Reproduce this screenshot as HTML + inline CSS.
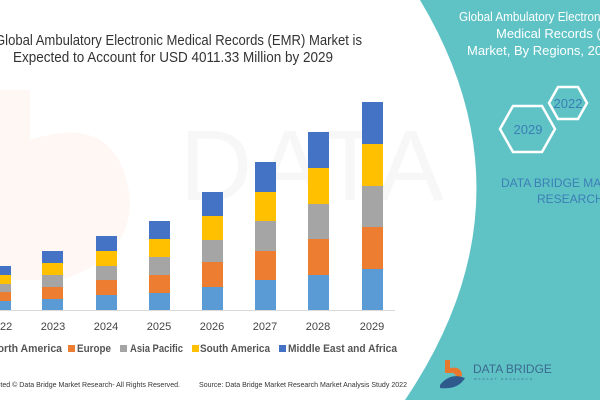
<!DOCTYPE html>
<html><head><meta charset="utf-8"><style>
html,body{margin:0;padding:0;background:#fff;}
svg{display:block;}
text{font-family:"Liberation Sans",sans-serif;}
</style></head><body>
<svg width="600" height="400" viewBox="0 0 600 400">
<rect width="600" height="400" fill="#fff"/>
<!-- faint watermark -->
<path d="M0,90 L30,90 L30,140 Q120,110 130,200 Q130,260 60,280 L0,280 Z" fill="#fdf3ef" opacity="0.7"/>
<text x="180" y="200" font-size="100" fill="#f7f7f7" letter-spacing="4">DATA BR</text>
<!-- teal panel -->
<path d="M420,0 Q540,200 405,400 L600,400 L600,0 Z" fill="#5fc3c6"/>
<text x="459" y="21" font-size="13" fill="#fff" textLength="150" lengthAdjust="spacingAndGlyphs">Global Ambulatory Electronic</text>
<text x="496" y="38" font-size="13" fill="#fff">Medical Records (EMR)</text>
<text x="467" y="55" font-size="13" fill="#fff">Market, By Regions, 2022</text>
<polygon points="549,103 558,87 578,87 587,103 578,119 558,119" fill="none" stroke="#fff" stroke-width="2.5"/>
<text x="568" y="108" font-size="13" fill="#3b7fb5" text-anchor="middle">2022</text>
<polygon points="500,129 513,106 542,106 555,129 542,152 513,152" fill="none" stroke="#fff" stroke-width="2.5"/>
<text x="528" y="134" font-size="13" fill="#3b7fb5" text-anchor="middle">2029</text>
<text x="501" y="187" font-size="12" fill="#3b7fb5">DATA BRIDGE MARKET</text>
<text x="537" y="203" font-size="12" fill="#3b7fb5">RESEARCH</text>
<!-- logo -->
<path d="M445,360 L450,360 L450,368 Q462,366 462,376 L456,378 Q456,372 450,373 L445,373 Z" fill="#e8782e"/>
<path d="M440,385 Q450,372 465,378 Q458,390 440,388 Z" fill="#2f5a8e"/>
<text x="473" y="373" font-size="12" fill="#3b6a8e">DATA BRIDGE</text>
<text x="474" y="380" font-size="3" fill="#3b6a8e" letter-spacing="2">MARKET RESEARCH</text>
<!-- title -->
<text x="-5" y="45" font-size="15" fill="#333" textLength="367" lengthAdjust="spacingAndGlyphs">Global Ambulatory Electronic Medical Records (EMR) Market is</text>
<text x="13" y="62" font-size="15" fill="#333" textLength="320" lengthAdjust="spacingAndGlyphs">Expected to Account for USD 4011.33 Million by 2029</text>
<!-- baseline -->
<line x1="0" y1="310.5" x2="395" y2="310.5" stroke="#d9d9d9"/>
<!-- 2022 -->
<rect x="-10" y="266" width="21" height="9" fill="#4472c4"/><rect x="-10" y="275" width="21" height="9" fill="#ffc000"/><rect x="-10" y="284" width="21" height="8" fill="#a5a5a5"/><rect x="-10" y="292" width="21" height="9" fill="#ed7d31"/><rect x="-10" y="301" width="21" height="9" fill="#5b9bd5"/>
<!-- 2023 -->
<rect x="42" y="251" width="21" height="12" fill="#4472c4"/><rect x="42" y="263" width="21" height="12" fill="#ffc000"/><rect x="42" y="275" width="21" height="12" fill="#a5a5a5"/><rect x="42" y="287" width="21" height="12" fill="#ed7d31"/><rect x="42" y="299" width="21" height="11" fill="#5b9bd5"/>
<!-- 2024 -->
<rect x="96" y="236" width="21" height="15" fill="#4472c4"/><rect x="96" y="251" width="21" height="15" fill="#ffc000"/><rect x="96" y="266" width="21" height="14" fill="#a5a5a5"/><rect x="96" y="280" width="21" height="15" fill="#ed7d31"/><rect x="96" y="295" width="21" height="15" fill="#5b9bd5"/>
<!-- 2025 -->
<rect x="149" y="221" width="21" height="18" fill="#4472c4"/><rect x="149" y="239" width="21" height="18" fill="#ffc000"/><rect x="149" y="257" width="21" height="18" fill="#a5a5a5"/><rect x="149" y="275" width="21" height="18" fill="#ed7d31"/><rect x="149" y="293" width="21" height="17" fill="#5b9bd5"/>
<!-- 2026 -->
<rect x="202" y="192" width="21" height="24" fill="#4472c4"/><rect x="202" y="216" width="21" height="24" fill="#ffc000"/><rect x="202" y="240" width="21" height="22" fill="#a5a5a5"/><rect x="202" y="262" width="21" height="25" fill="#ed7d31"/><rect x="202" y="287" width="21" height="23" fill="#5b9bd5"/>
<!-- 2027 -->
<rect x="255" y="162" width="21" height="30" fill="#4472c4"/><rect x="255" y="192" width="21" height="29" fill="#ffc000"/><rect x="255" y="221" width="21" height="30" fill="#a5a5a5"/><rect x="255" y="251" width="21" height="29" fill="#ed7d31"/><rect x="255" y="280" width="21" height="30" fill="#5b9bd5"/>
<!-- 2028 -->
<rect x="308" y="132" width="21" height="36" fill="#4472c4"/><rect x="308" y="168" width="21" height="36" fill="#ffc000"/><rect x="308" y="204" width="21" height="35" fill="#a5a5a5"/><rect x="308" y="239" width="21" height="36" fill="#ed7d31"/><rect x="308" y="275" width="21" height="35" fill="#5b9bd5"/>
<!-- 2029 -->
<rect x="362" y="102" width="21" height="42" fill="#4472c4"/><rect x="362" y="144" width="21" height="42" fill="#ffc000"/><rect x="362" y="186" width="21" height="41" fill="#a5a5a5"/><rect x="362" y="227" width="21" height="42" fill="#ed7d31"/><rect x="362" y="269" width="21" height="41" fill="#5b9bd5"/>
<!-- year labels -->
<g font-size="11" fill="#444" text-anchor="middle">
<text x="0" y="330">2022</text><text x="53" y="330">2023</text><text x="106" y="330">2024</text><text x="159" y="330">2025</text><text x="212" y="330">2026</text><text x="265" y="330">2027</text><text x="318" y="330">2028</text><text x="372" y="330">2029</text>
</g>
<!-- legend -->
<g font-size="11" font-weight="bold" fill="#555">
<text x="-10" y="352" textLength="72" lengthAdjust="spacingAndGlyphs">North America</text>
<rect x="68" y="345" width="7" height="7" fill="#ed7d31"/><text x="77" y="352" textLength="34" lengthAdjust="spacingAndGlyphs">Europe</text>
<rect x="120" y="345" width="7" height="7" fill="#a5a5a5"/><text x="130" y="352" textLength="53" lengthAdjust="spacingAndGlyphs">Asia Pacific</text>
<rect x="192" y="345" width="7" height="7" fill="#ffc000"/><text x="200" y="352" textLength="70" lengthAdjust="spacingAndGlyphs">South America</text>
<rect x="279" y="345" width="7" height="7" fill="#4472c4"/><text x="288" y="352" textLength="109" lengthAdjust="spacingAndGlyphs">Middle East and Africa</text>
</g>
<!-- footer -->
<text x="-20" y="387" font-size="7.5" fill="#333" font-family="Liberation Serif" textLength="200" lengthAdjust="spacingAndGlyphs">Protected © Data Bridge Market Research- All Rights Reserved.</text>
<text x="199" y="387" font-size="7.5" fill="#333" font-family="Liberation Serif" textLength="208" lengthAdjust="spacingAndGlyphs">Source: Data Bridge Market Research Market Analysis Study 2022</text>
</svg>
</body></html>
